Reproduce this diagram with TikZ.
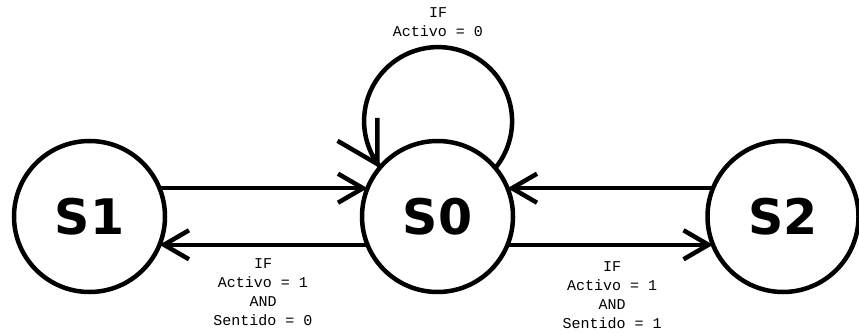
\documentclass[tikz,border=0pt]{standalone}
\usepackage{fontspec}
\newfontfamily\estfont{DejaVu Sans}
\newfontfamily\condfont{Liberation Mono}
\usetikzlibrary{arrows.meta}

\tikzset{
	estado/.style={circle,draw=black,line width=4.5pt,minimum size=151pt,
		inner sep=0pt,outer sep=0pt,font=\estfont\bfseries\fontsize{49}{50}\selectfont},
	trans/.style={line width=4.5pt,-{Straight Barb[length=25pt,width=29pt]}},
	cond/.style={align=center,font=\condfont\fontsize{15}{19}\selectfont}
}

\begin{document}
\begin{tikzpicture}[x=1pt,y=1pt]
	\useasboundingbox (0,0) rectangle (859,332);
	% estados
	\node[estado] (s1) at (89.5,115.5) {S1};
	\node[estado] (s0) at (437.5,115.5) {S0};
	\node[estado] (s2) at (783,115.5) {S2};
	% transiciones
	\draw[trans] (s1.22) -- (s0.158);
	\draw[trans] (s0.202) -- (s1.-22);
	\draw[trans] (s2.158) -- (s0.22);
	\draw[trans] (s0.-22) -- (s2.202);
	% bucle sobre S0, la punta va aparte para girarla un poco
	\draw[line width=4.5pt] (s0.40) arc[start angle=-39.3,end angle=219.3,radius=74];
	\draw[line width=4.5pt,-{Straight Barb[length=40pt,width=46pt]}]
		([shift={(-8,13.9)}]s0.140) -- (s0.140);
	% condiciones
	\node[cond] (c0) at (438,309.5) {IF\\Activo = 0};
	\node[cond] (c1) at (263,39.5) {IF\\Activo = 1\\AND\\Sentido = 0};
	\node[cond] (c2) at (612,37) {IF\\Activo = 1\\AND\\Sentido = 1};
\end{tikzpicture}
\end{document}
